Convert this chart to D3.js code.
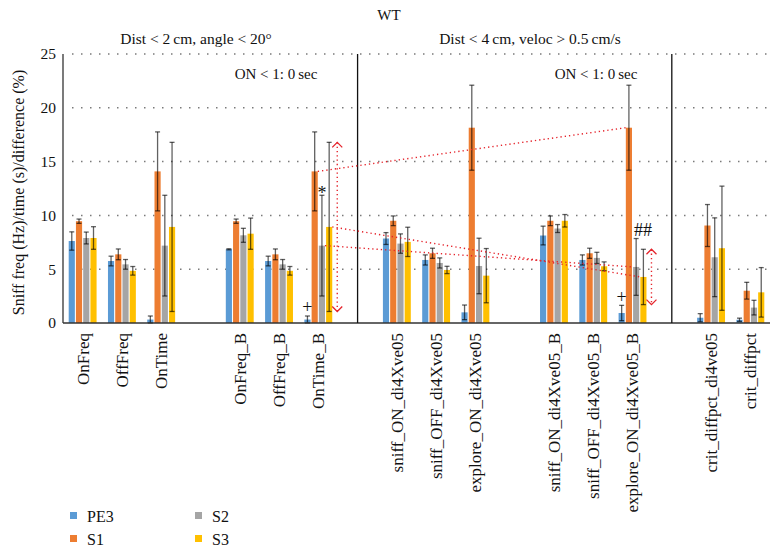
<!DOCTYPE html>
<html>
<head>
<meta charset="utf-8">
<script src="https://cdn.jsdelivr.net/npm/d3@7"></script>
<style>
  body { margin: 0; background: #fff; }
  text { font-family: "Liberation Serif", "DejaVu Serif", serif; fill: #111; }
</style>
</head>
<body>
<div id="chart-area"></div>
<script>
// categories along the x axis, "" = empty spacer slot
const categories = ["OnFreq", "OffFreq", "OnTime", "", "OnFreq_B", "OffFreq_B", "OnTime_B", "",
    "sniff_ON_di4Xve05", "sniff_OFF_di4Xve05", "explore_ON_di4Xve05", "",
    "sniff_ON_di4Xve05_B", "sniff_OFF_di4Xve05_B", "explore_ON_di4Xve05_B", "",
    "crit_diffpct_di4ve05", "crit_diffpct"];

const seriesNames = ["PE3", "S1", "S2", "S3"];
const seriesColors = ["#5b9bd5", "#ed7d31", "#a5a5a5", "#ffc000"];

const pe3 = [7.62, 5.76, 0.32, null, 6.85, 5.76, 0.32, null, 7.85, 5.86, 0.99, null, 8.13, 5.86, 0.93, null, 0.49, 0.3];
const s1 = [9.46, 6.38, 14.09, null, 9.46, 6.38, 14.09, null, 9.5, 6.48, 18.15, null, 9.5, 6.48, 18.15, null, 9.06, 3.0];
const s2 = [7.9, 5.45, 7.19, null, 8.15, 5.45, 7.19, null, 7.38, 5.58, 5.3, null, 8.78, 6.05, 5.21, null, 6.11, 1.43];
const s3 = [7.9, 4.85, 8.93, null, 8.3, 4.85, 8.93, null, 7.54, 4.93, 4.4, null, 9.5, 5.27, 4.28, null, 6.95, 2.85];

// +/- error for each bar
const pe3Err = [0.85, 0.45, 0.33, null, 0.05, 0.45, 0.33, null, 0.55, 0.47, 0.68, null, 0.87, 0.47, 0.71, null, 0.38, 0.15];
const s1Err = [0.2, 0.5, 3.67, null, 0.2, 0.5, 3.67, null, 0.45, 0.47, 3.95, null, 0.45, 0.47, 3.95, null, 1.95, 0.78];
const s2Err = [0.55, 0.45, 4.68, null, 0.65, 0.45, 4.68, null, 0.9, 0.47, 2.58, null, 0.37, 0.52, 2.64, null, 3.66, 0.68];
const s3Err = [1.05, 0.4, 7.86, null, 1.45, 0.4, 7.86, null, 1.36, 0.34, 2.52, null, 0.58, 0.41, 2.57, null, 5.77, 2.3];

const yTicks = [0, 5, 10, 15, 20, 25];

// annotations
const linkFrom = "OnTime_B";
const linkTo = "explore_ON_di4Xve05_B";
const linkSeries = [1, 2, 3];           // S1, S2, S3 tops are joined
const arrowCats = ["OnTime_B", "explore_ON_di4Xve05_B"]; // span of S3 error bar
const marks = [
    { cat: "OnTime_B", series: 0, text: "+" },
    { cat: "explore_ON_di4Xve05_B", series: 0, text: "+" },
    { cat: "OnTime_B", series: 2, text: "*" },
    { cat: "explore_ON_di4Xve05_B", series: 2, text: "##" }
];

const values = [pe3, s1, s2, s3];
const errors = [pe3Err, s1Err, s2Err, s3Err];

const width = 781;
const height = 552;
const plotLeft = 63, plotRight = 770, plotTop = 54, plotBottom = 323;

const svg = d3.select("#chart-area")
    .append("svg")
    .attr("width", width)
    .attr("height", height);

svg.append("rect").attr("width", width).attr("height", height).attr("fill", "#fff");

const x = d3.scaleBand()
    .domain(d3.range(categories.length))
    .range([plotLeft, plotRight])
    .paddingInner(0.29)
    .paddingOuter(0.145);

const xSub = d3.scaleBand()
    .domain(d3.range(seriesNames.length))
    .range([0, x.bandwidth()])
    .paddingInner(0.15);

const y = d3.scaleLinear().domain([0, 25]).range([plotBottom, plotTop]);

const catIndex = name => categories.indexOf(name);
const barLeft = (ci, si) => x(ci) + xSub(si);
const barMid = (ci, si) => barLeft(ci, si) + xSub.bandwidth() / 2;

// dotted grid
svg.append("g")
    .selectAll("line")
    .data(yTicks.filter(t => t > 0))
    .enter()
    .append("line")
    .attr("x1", plotLeft + 9)
    .attr("x2", plotRight - 2)
    .attr("y1", d => y(d))
    .attr("y2", d => y(d))
    .attr("stroke", "#7a7a7a")
    .attr("stroke-width", 1.5)
    .attr("stroke-dasharray", "1.5,7.5");

// y tick labels
svg.append("g")
    .selectAll("text")
    .data(yTicks)
    .enter()
    .append("text")
    .attr("x", plotLeft - 7)
    .attr("y", d => y(d))
    .attr("dy", "0.35em")
    .attr("text-anchor", "end")
    .style("font-size", "15.5px")
    .text(d => d);

// bars
const barData = [];
categories.forEach((c, ci) => {
    if (!c) return;
    values.forEach((vals, si) => {
        barData.push({ ci: ci, si: si, v: vals[ci], e: errors[si][ci] });
    });
});

svg.append("g")
    .selectAll("rect")
    .data(barData)
    .enter()
    .append("rect")
    .attr("x", d => barLeft(d.ci, d.si))
    .attr("width", xSub.bandwidth())
    .attr("y", d => y(d.v))
    .attr("height", d => y(0) - y(d.v))
    .attr("fill", d => seriesColors[d.si]);

// error bars
const errG = svg.append("g")
    .attr("stroke", "#000")
    .attr("stroke-opacity", 0.62)
    .attr("stroke-width", 1.3);

barData.forEach(d => {
    const cx = barMid(d.ci, d.si);
    const y1 = y(d.v + d.e), y2 = y(Math.max(0, d.v - d.e));
    errG.append("line").attr("x1", cx).attr("x2", cx).attr("y1", y1).attr("y2", y2);
    errG.append("line").attr("x1", cx - 2.5).attr("x2", cx + 2.5).attr("y1", y1).attr("y2", y1);
    errG.append("line").attr("x1", cx - 2.5).attr("x2", cx + 2.5).attr("y1", y2).attr("y2", y2);
});

// axis lines
svg.append("line")
    .attr("x1", plotLeft).attr("x2", plotLeft)
    .attr("y1", plotTop).attr("y2", plotBottom)
    .attr("stroke", "#333").attr("stroke-width", 1.3);
svg.append("line")
    .attr("x1", plotLeft).attr("x2", plotRight)
    .attr("y1", plotBottom).attr("y2", plotBottom)
    .attr("stroke", "#333").attr("stroke-width", 1.5);

// section dividers, halfway between neighbouring groups
categories.forEach((c, ci) => {
    if (c || ci === 3 || ci === 11) return;
    const xl = barLeft(ci - 1, 3) + xSub.bandwidth();
    const xr = barLeft(ci + 1, 0);
    const xm = (xl + xr) / 2;
    svg.append("line")
        .attr("x1", xm).attr("x2", xm)
        .attr("y1", plotTop).attr("y2", plotBottom)
        .attr("stroke", "#111").attr("stroke-width", 1.3);
});

// x labels
svg.append("g")
    .selectAll("text")
    .data(categories.map((c, i) => ({ c: c, i: i })).filter(d => d.c))
    .enter()
    .append("text")
    .attr("transform", d => `translate(${x(d.i) + x.bandwidth() / 2},${plotBottom + 10}) rotate(-90)`)
    .attr("dy", "0.35em")
    .attr("text-anchor", "end")
    .style("font-size", "17px")
    .text(d => d.c);

// red dotted links between OnTime_B and explore_ON_B
const red = "#e5232b";
const fromI = catIndex(linkFrom), toI = catIndex(linkTo);
linkSeries.forEach(si => {
    svg.append("line")
        .attr("x1", barLeft(fromI, si) + xSub.bandwidth())
        .attr("y1", y(values[si][fromI]))
        .attr("x2", barLeft(toI, si))
        .attr("y2", y(values[si][toI]))
        .attr("stroke", red)
        .attr("stroke-width", 1.4)
        .attr("stroke-dasharray", "1.3,3");
});

// vertical double arrows over S3 error range
arrowCats.forEach(c => {
    const ci = catIndex(c);
    const ax = barLeft(ci, 3) + xSub.bandwidth() + 5;
    const yt = y(s3[ci] + s3Err[ci]);
    const yb = y(s3[ci] - s3Err[ci]);
    svg.append("line")
        .attr("x1", ax).attr("x2", ax).attr("y1", yt).attr("y2", yb)
        .attr("stroke", red).attr("stroke-width", 1.4)
        .attr("stroke-dasharray", "1.3,3");
    svg.append("path")
        .attr("d", `M${ax - 5},${yt + 5}L${ax},${yt}L${ax + 5},${yt + 5}M${ax - 5},${yb - 5}L${ax},${yb}L${ax + 5},${yb - 5}`)
        .attr("fill", "none").attr("stroke", red).attr("stroke-width", 1.3);
});

// significance marks
marks.forEach(m => {
    const ci = catIndex(m.cat);
    const topY = y(values[m.series][ci] + errors[m.series][ci]);
    const t = svg.append("text")
        .attr("y", topY - 9)
        .attr("dy", "0.35em")
        .style("font-size", "18px")
        .text(m.text);
    if (m.text === "##") {
        t.attr("x", barLeft(ci, m.series) + 1).attr("text-anchor", "start");
    } else {
        t.attr("x", barMid(ci, m.series)).attr("text-anchor", "middle");
    }
    if (m.text === "*") t.attr("dy", "0.7em");
});

// titles
svg.append("text").attr("x", 389).attr("y", 20).attr("text-anchor", "middle")
    .style("font-size", "15px").text("WT");
svg.append("text").attr("x", 196).attr("y", 44).attr("text-anchor", "middle")
    .style("font-size", "15.5px").text("Dist < 2\u2009cm, angle < 20°");
svg.append("text").attr("x", 530).attr("y", 44).attr("text-anchor", "middle")
    .style("font-size", "15.5px").text("Dist < 4\u2009cm, veloc > 0.5\u2009cm/s");
svg.append("text").attr("x", 276).attr("y", 79).attr("text-anchor", "middle")
    .style("font-size", "15px").text("ON < 1: 0\u2009sec");
svg.append("text").attr("x", 596).attr("y", 79).attr("text-anchor", "middle")
    .style("font-size", "15px").text("ON < 1: 0\u2009sec");

// y axis title
svg.append("text")
    .attr("transform", `translate(24,${(plotTop + plotBottom) / 2 + 4}) rotate(-90)`)
    .attr("text-anchor", "middle")
    .style("font-size", "16px")
    .text("Sniff freq (Hz)/time (s)/difference (%)");

// legend, two columns
const legend = svg.append("g")
    .selectAll("g")
    .data(seriesNames)
    .enter()
    .append("g")
    .attr("transform", (d, i) => `translate(${70 + Math.floor(i / 2) * 125},${512 + (i % 2) * 23})`);
legend.append("rect")
    .attr("width", 7).attr("height", 7)
    .attr("fill", (d, i) => seriesColors[i]);
legend.append("text")
    .attr("x", 17).attr("y", 4)
    .attr("dy", "0.35em")
    .style("font-size", "16px")
    .text(d => d);
</script>
</body>
</html>
